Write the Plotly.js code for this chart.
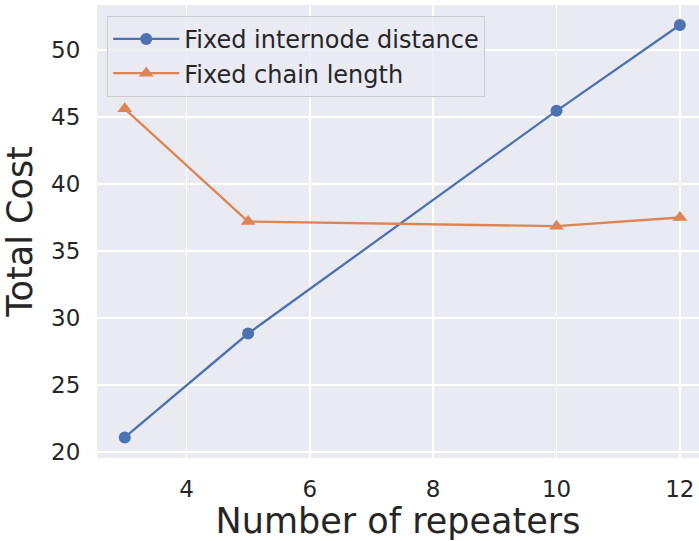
<!DOCTYPE html>
<html>
<head>
<meta charset="utf-8">
<script src="https://cdn.plot.ly/plotly-3.0.1.min.js"></script>
<style>html,body{margin:0;padding:0;background:#fff;overflow:hidden}</style>
</head>
<body>
<div id="chart" style="width:699px;height:541px"></div>
<script>
const repeaters = [3, 5, 10, 12];
const fixedInternodeDistance = [21.1, 28.85, 45.45, 51.85];
const fixedChainLength = [45.6, 37.2, 36.85, 37.5];
const seriesNames = ["Fixed internode distance", "Fixed chain length"];
const xTicks = [4, 6, 8, 10, 12];
const yTicks = [20, 25, 30, 35, 40, 45, 50];

const font = "DejaVu Sans, Liberation Sans, sans-serif";
const traces = [
  {x: repeaters, y: fixedInternodeDistance, name: seriesNames[0], type: "scatter", mode: "lines+markers",
   line: {color: "#4c72b0", width: 2.3}, marker: {symbol: "circle", size: 12, color: "#4c72b0"}},
  {x: repeaters, y: fixedChainLength, name: seriesNames[1], type: "scatter", mode: "lines+markers",
   line: {color: "#dd8452", width: 2.3}, marker: {symbol: "triangle-up", size: 13, color: "#dd8452"}}
];
const layout = {
  width: 699, height: 541,
  margin: {l: 97, r: 0, t: 5, b: 83},
  paper_bgcolor: "#ffffff", plot_bgcolor: "#eaeaf2",
  font: {family: font, color: "#262626", size: 23},
  showlegend: true,
  legend: {x: 0.017, y: 0.976, xanchor: "left", yanchor: "top", bgcolor: "rgba(234,234,242,0.8)",
    bordercolor: "#cccccc", borderwidth: 1, font: {size: 24, color: "#262626"}, tracegroupgap: 0, itemwidth: 66},
  xaxis: {range: [2.55, 12.31], tickvals: xTicks, showgrid: true, gridcolor: "#ffffff", gridwidth: 1.5,
    zeroline: false, showline: false, ticks: "outside", ticklen: 10, tickcolor: "rgba(0,0,0,0)",
    tickfont: {size: 23}, title: {text: "Number of repeaters", font: {size: 35}, standoff: 10}},
  yaxis: {range: [19.57, 53.34], tickvals: yTicks, showgrid: true, gridcolor: "#ffffff", gridwidth: 1.5,
    zeroline: false, showline: false, ticks: "outside", ticklen: 11, tickcolor: "rgba(0,0,0,0)",
    tickfont: {size: 23}, title: {text: "Total Cost", font: {size: 35}, standoff: 12}}
};
Plotly.newPlot("chart", traces, layout, {displayModeBar: false, staticPlot: true});
</script>
</body>
</html>
